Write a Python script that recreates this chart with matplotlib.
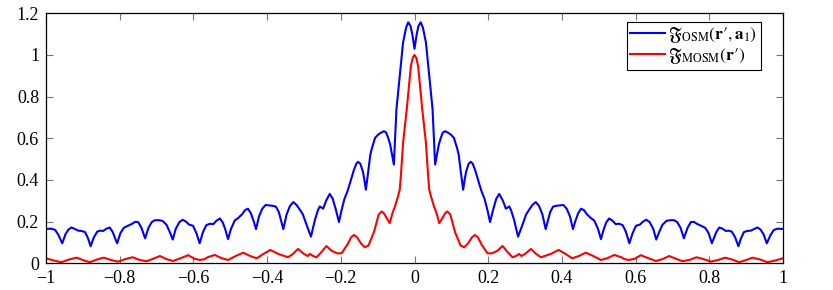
import matplotlib
matplotlib.use("Agg")
import matplotlib.pyplot as plt

# ---- data (left half and right half of each curve) ----
blue_x_left = [-1.000, -0.985, -0.975, -0.966, -0.956, -0.947, -0.939, -0.931, -0.922, -0.913,
               -0.903, -0.894, -0.886, -0.879, -0.870, -0.861, -0.852, -0.845, -0.836, -0.827,
               -0.819, -0.807, -0.798, -0.789, -0.778, -0.768, -0.758, -0.750, -0.741, -0.731,
               -0.722, -0.713, -0.704, -0.695, -0.684, -0.673, -0.664, -0.656, -0.648, -0.638,
               -0.629, -0.620, -0.612, -0.601, -0.592, -0.583, -0.574, -0.565, -0.555, -0.546,
               -0.537, -0.528, -0.520, -0.513, -0.506, -0.498, -0.488, -0.478, -0.468, -0.460,
               -0.452, -0.444, -0.437, -0.430, -0.422, -0.413, -0.404, -0.395, -0.385, -0.376,
               -0.368, -0.362, -0.356, -0.347, -0.338, -0.329, -0.320, -0.311, -0.303, -0.293,
               -0.281, -0.270, -0.262, -0.257, -0.248, -0.240, -0.230, -0.222, -0.213, -0.205,
               -0.198, -0.190, -0.182, -0.175, -0.165, -0.158, -0.153, -0.147, -0.140, -0.136,
               -0.132, -0.126, -0.120, -0.116, -0.107, -0.0985, -0.090, -0.083, -0.077, -0.071,
               -0.066, -0.056, -0.049, -0.040, -0.031, -0.023, -0.017, -0.011, -0.006, 0.000]
blue_y_left = [0.165, 0.166, 0.160, 0.135, 0.096, 0.140, 0.162, 0.172, 0.165, 0.157,
               0.155, 0.150, 0.120, 0.082, 0.125, 0.152, 0.157, 0.155, 0.166, 0.172,
               0.150, 0.096, 0.145, 0.170, 0.180, 0.188, 0.199, 0.198, 0.170, 0.120,
               0.170, 0.198, 0.207, 0.207, 0.204, 0.185, 0.150, 0.114, 0.165, 0.198,
               0.209, 0.200, 0.186, 0.180, 0.145, 0.096, 0.150, 0.183, 0.190, 0.188,
               0.205, 0.215, 0.195, 0.160, 0.116, 0.165, 0.205, 0.218, 0.235, 0.255,
               0.262, 0.240, 0.205, 0.164, 0.225, 0.262, 0.280, 0.278, 0.276, 0.272,
               0.245, 0.205, 0.164, 0.235, 0.275, 0.294, 0.280, 0.257, 0.235, 0.185,
               0.128, 0.210, 0.255, 0.273, 0.262, 0.300, 0.333, 0.310, 0.255, 0.198,
               0.255, 0.310, 0.345, 0.385, 0.445, 0.478, 0.487, 0.478, 0.440, 0.400,
               0.353, 0.434, 0.520, 0.550, 0.602, 0.618, 0.628, 0.634, 0.628, 0.600,
               0.570, 0.474, 0.740, 0.900, 1.060, 1.130, 1.157, 1.140, 1.100, 1.030]
blue_x_right = [0.006, 0.011, 0.017, 0.023, 0.031, 0.040, 0.049, 0.056, 0.066, 0.071,
                0.077, 0.083, 0.090, 0.0985, 0.107, 0.116, 0.120, 0.126, 0.132, 0.136,
                0.140, 0.147, 0.153, 0.158, 0.165, 0.175, 0.182, 0.190, 0.198, 0.205,
                0.213, 0.222, 0.230, 0.240, 0.248, 0.257, 0.262, 0.270, 0.281, 0.293,
                0.303, 0.311, 0.320, 0.329, 0.338, 0.347, 0.356, 0.362, 0.368, 0.376,
                0.385, 0.395, 0.404, 0.413, 0.422, 0.430, 0.437, 0.444, 0.452, 0.460,
                0.468, 0.478, 0.488, 0.498, 0.506, 0.513, 0.520, 0.528, 0.537, 0.546,
                0.555, 0.565, 0.574, 0.583, 0.592, 0.601, 0.612, 0.620, 0.629, 0.638,
                0.648, 0.656, 0.664, 0.673, 0.684, 0.695, 0.704, 0.713, 0.722, 0.731,
                0.741, 0.750, 0.758, 0.768, 0.778, 0.789, 0.798, 0.807, 0.819, 0.827,
                0.836, 0.845, 0.852, 0.861, 0.870, 0.879, 0.886, 0.894, 0.903, 0.913,
                0.922, 0.931, 0.939, 0.947, 0.956, 0.966, 0.975, 0.985, 1.000]
blue_y_right = [1.100, 1.140, 1.157, 1.130, 1.060, 0.900, 0.740, 0.474, 0.570, 0.600,
                0.628, 0.634, 0.628, 0.618, 0.602, 0.550, 0.520, 0.434, 0.353, 0.400,
                0.440, 0.478, 0.487, 0.478, 0.445, 0.385, 0.345, 0.310, 0.255, 0.198,
                0.255, 0.310, 0.333, 0.300, 0.262, 0.273, 0.255, 0.210, 0.128, 0.185,
                0.235, 0.257, 0.280, 0.294, 0.275, 0.235, 0.164, 0.205, 0.245, 0.272,
                0.276, 0.278, 0.280, 0.262, 0.225, 0.164, 0.205, 0.240, 0.262, 0.255,
                0.235, 0.218, 0.205, 0.165, 0.116, 0.160, 0.195, 0.215, 0.205, 0.188,
                0.190, 0.183, 0.150, 0.096, 0.145, 0.180, 0.186, 0.200, 0.209, 0.198,
                0.165, 0.114, 0.150, 0.185, 0.204, 0.207, 0.207, 0.198, 0.170, 0.120,
                0.170, 0.198, 0.199, 0.188, 0.180, 0.170, 0.145, 0.096, 0.150, 0.172,
                0.166, 0.155, 0.157, 0.152, 0.125, 0.082, 0.120, 0.150, 0.155, 0.157,
                0.165, 0.172, 0.162, 0.140, 0.096, 0.135, 0.160, 0.166, 0.165]

red_x_left = [-1.000, -0.980, -0.958, -0.938, -0.917, -0.899, -0.881, -0.862, -0.843, -0.824,
              -0.804, -0.785, -0.765, -0.746, -0.727, -0.709, -0.691, -0.673, -0.655, -0.634,
              -0.614, -0.598, -0.582, -0.570, -0.560, -0.542, -0.524, -0.506, -0.485, -0.465,
              -0.446, -0.428, -0.410, -0.391, -0.370, -0.343, -0.330, -0.316, -0.300, -0.290,
              -0.284, -0.275, -0.266, -0.252, -0.239, -0.225, -0.210, -0.198, -0.182, -0.172,
              -0.164, -0.156, -0.145, -0.135, -0.125, -0.110, -0.097, -0.089, -0.083, -0.075,
              -0.067, -0.060, -0.053, -0.045, -0.040, -0.037, -0.031, -0.021, -0.0098, -0.005,
              0.000]
red_y_left = [0.024, 0.014, 0.005, 0.018, 0.027, 0.015, 0.005, 0.018, 0.027, 0.016,
              0.008, 0.020, 0.029, 0.016, 0.010, 0.022, 0.035, 0.020, 0.011, 0.025,
              0.039, 0.022, 0.016, 0.020, 0.030, 0.040, 0.025, 0.016, 0.035, 0.051,
              0.035, 0.024, 0.045, 0.064, 0.045, 0.029, 0.045, 0.069, 0.045, 0.035,
              0.045, 0.035, 0.029, 0.055, 0.083, 0.060, 0.048, 0.048, 0.090, 0.125,
              0.136, 0.125, 0.095, 0.077, 0.085, 0.150, 0.235, 0.249, 0.240, 0.215,
              0.193, 0.240, 0.273, 0.320, 0.353, 0.420, 0.578, 0.740, 0.947, 0.985,
              1.000]
red_x_right = [0.005, 0.0098, 0.021, 0.031, 0.037, 0.040, 0.045, 0.053, 0.060, 0.067,
               0.075, 0.083, 0.089, 0.097, 0.110, 0.125, 0.135, 0.145, 0.156, 0.164,
               0.172, 0.182, 0.198, 0.210, 0.225, 0.239, 0.252, 0.266, 0.275, 0.284,
               0.290, 0.300, 0.316, 0.330, 0.343, 0.370, 0.391, 0.410, 0.428, 0.446,
               0.465, 0.485, 0.506, 0.524, 0.542, 0.560, 0.570, 0.582, 0.598, 0.614,
               0.634, 0.655, 0.673, 0.691, 0.709, 0.727, 0.746, 0.765, 0.785, 0.804,
               0.824, 0.843, 0.862, 0.881, 0.899, 0.917, 0.938, 0.958, 0.980, 1.000]
red_y_right = [0.985, 0.947, 0.740, 0.578, 0.420, 0.353, 0.320, 0.273, 0.240, 0.193,
               0.215, 0.240, 0.249, 0.235, 0.150, 0.085, 0.077, 0.095, 0.125, 0.136,
               0.125, 0.090, 0.048, 0.048, 0.060, 0.083, 0.055, 0.029, 0.035, 0.045,
               0.035, 0.045, 0.069, 0.045, 0.029, 0.045, 0.064, 0.045, 0.024, 0.035,
               0.051, 0.035, 0.016, 0.025, 0.040, 0.030, 0.020, 0.016, 0.022, 0.039,
               0.025, 0.011, 0.020, 0.035, 0.022, 0.010, 0.016, 0.029, 0.020, 0.008,
               0.016, 0.027, 0.018, 0.005, 0.015, 0.027, 0.018, 0.005, 0.014, 0.024]

x_ticks = [-1, -0.8, -0.6, -0.4, -0.2, 0, 0.2, 0.4, 0.6, 0.8, 1]
x_tick_labels = ["\u22121", "\u22120.8", "\u22120.6", "\u22120.4", "\u22120.2", "0",
                 "0.2", "0.4", "0.6", "0.8", "1"]
y_ticks = [0, 0.2, 0.4, 0.6, 0.8, 1, 1.2]
y_tick_labels = ["0", "0.2", "0.4", "0.6", "0.8", "1", "1.2"]
label_blue = "$\\mathfrak{F}_{\\mathrm{OSM}}(\\mathbf{r}\u2032,\\mathbf{a}_1)$"
label_red = "$\\mathfrak{F}_{\\mathrm{MOSM}}(\\mathbf{r}\u2032)$"

plt.rcParams['font.family'] = ['Liberation Serif', 'DejaVu Serif']
plt.rcParams['mathtext.fontset'] = 'stix'

fig = plt.figure(figsize=(8.33, 2.90), dpi=100)
ax = fig.add_axes([46 / 833, 1 - 263.3 / 290, (783 - 46) / 833, (263.3 - 13.3) / 290])

ax.plot(blue_x_left + blue_x_right, blue_y_left + blue_y_right, color=(0, 0, 1), lw=1.5,
        label=label_blue, solid_joinstyle='round')
ax.plot(red_x_left + red_x_right, red_y_left + red_y_right, color=(1, 0, 0), lw=1.5,
        label=label_red, solid_joinstyle='round')

ax.set_xlim(-1, 1)
ax.set_ylim(0, 1.2)
ax.set_xticks(x_ticks)
ax.set_xticklabels(x_tick_labels)
ax.set_yticks(y_ticks)
ax.set_yticklabels(y_tick_labels)
ax.tick_params(direction='in', length=5, width=0.8, color='#777777',
               top=True, right=True, labelsize=13)
ax.tick_params(axis='x', pad=5)
ax.tick_params(axis='y', pad=5)
for s in ax.spines.values():
    s.set_linewidth(0.9)

leg = ax.legend(loc='upper right', bbox_to_anchor=(0.970, 0.966), fontsize=12.5,
                frameon=True, fancybox=False, edgecolor='black', framealpha=1,
                handlelength=2.0, handletextpad=0.2, borderpad=0.2,
                labelspacing=0.05, borderaxespad=0)
leg.get_frame().set_linewidth(0.8)

fig.savefig("out.png", dpi=100)
